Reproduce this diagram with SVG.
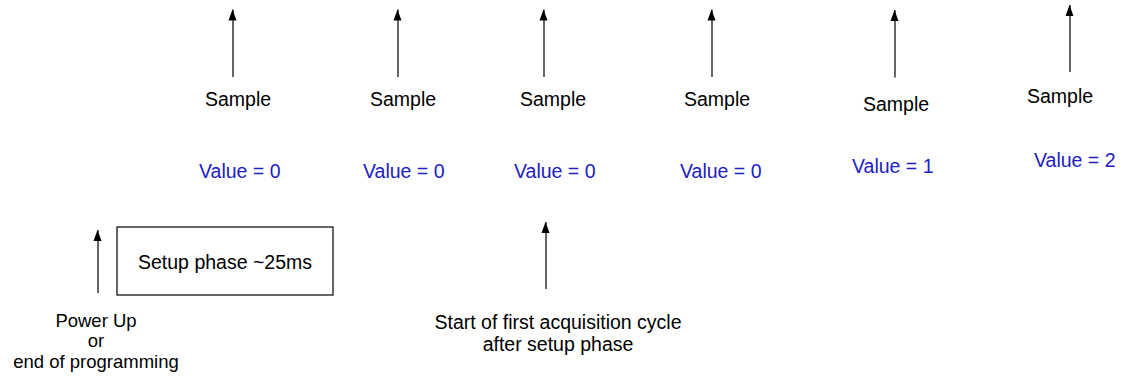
<svg xmlns="http://www.w3.org/2000/svg" width="1122" height="376" viewBox="0 0 1122 376">
<style>
text{font-family:"Liberation Sans",Arial,sans-serif;font-size:19.5px;fill:#000}
.v{fill:#2020c4}
.c{text-anchor:middle}
.s{font-size:18.5px}
.a{stroke:#000;stroke-width:1.2;fill:none;marker-end:url(#ah)}
</style>
<defs>
<marker id="ah" markerUnits="userSpaceOnUse" markerWidth="10" markerHeight="12" refX="4" refY="0.5" orient="auto-start-reverse" viewBox="0 0 8 12" overflow="visible">
<path d="M0,11 L4,0 L8,11 Z" fill="#000" transform="rotate(90 4 0)"/>
</marker>
</defs>
<rect width="1122" height="376" fill="#fff"/>
<g id="connectors">
<line class="a" x1="233" y1="77" x2="233" y2="9.5"/>
<line class="a" x1="398" y1="77" x2="398" y2="9.5"/>
<line class="a" x1="544" y1="77" x2="544" y2="9.5"/>
<line class="a" x1="712" y1="77" x2="712" y2="9.5"/>
<line class="a" x1="895" y1="77.5" x2="895" y2="10"/>
<line class="a" x1="1070" y1="72" x2="1070" y2="5"/>
<line class="a" x1="98" y1="293" x2="98" y2="230"/>
<line class="a" x1="546" y1="289" x2="546" y2="222"/>
</g>
<g id="sample1"><text x="205" y="105.5">Sample</text><text class="v" x="199" y="177.5">Value = 0</text></g>
<g id="sample2"><text x="370" y="106">Sample</text><text class="v" x="363" y="177.5">Value = 0</text></g>
<g id="sample3"><text x="520" y="106">Sample</text><text class="v" x="514" y="177.5">Value = 0</text></g>
<g id="sample4"><text x="684" y="105.5">Sample</text><text class="v" x="680" y="177.5">Value = 0</text></g>
<g id="sample5"><text x="863" y="111">Sample</text><text class="v" x="852" y="172.5">Value = 1</text></g>
<g id="sample6"><text x="1027" y="103">Sample</text><text class="v" x="1034" y="166.5">Value = 2</text></g>
<g id="setup"><rect x="117" y="227" width="216" height="68" fill="#fff" stroke="#000" stroke-width="1.2"/><text class="c" x="225" y="268.5">Setup phase ~25ms</text></g>
<g id="powerup"><text class="c s" x="96" y="326.5">Power Up</text><text class="c s" x="96" y="347">or</text><text class="c s" x="96" y="367.5">end of programming</text></g>
<g id="firstcycle"><text class="c" x="558" y="328.5">Start of first acquisition cycle</text><text class="c" x="558" y="351">after setup phase</text></g>
</svg>
